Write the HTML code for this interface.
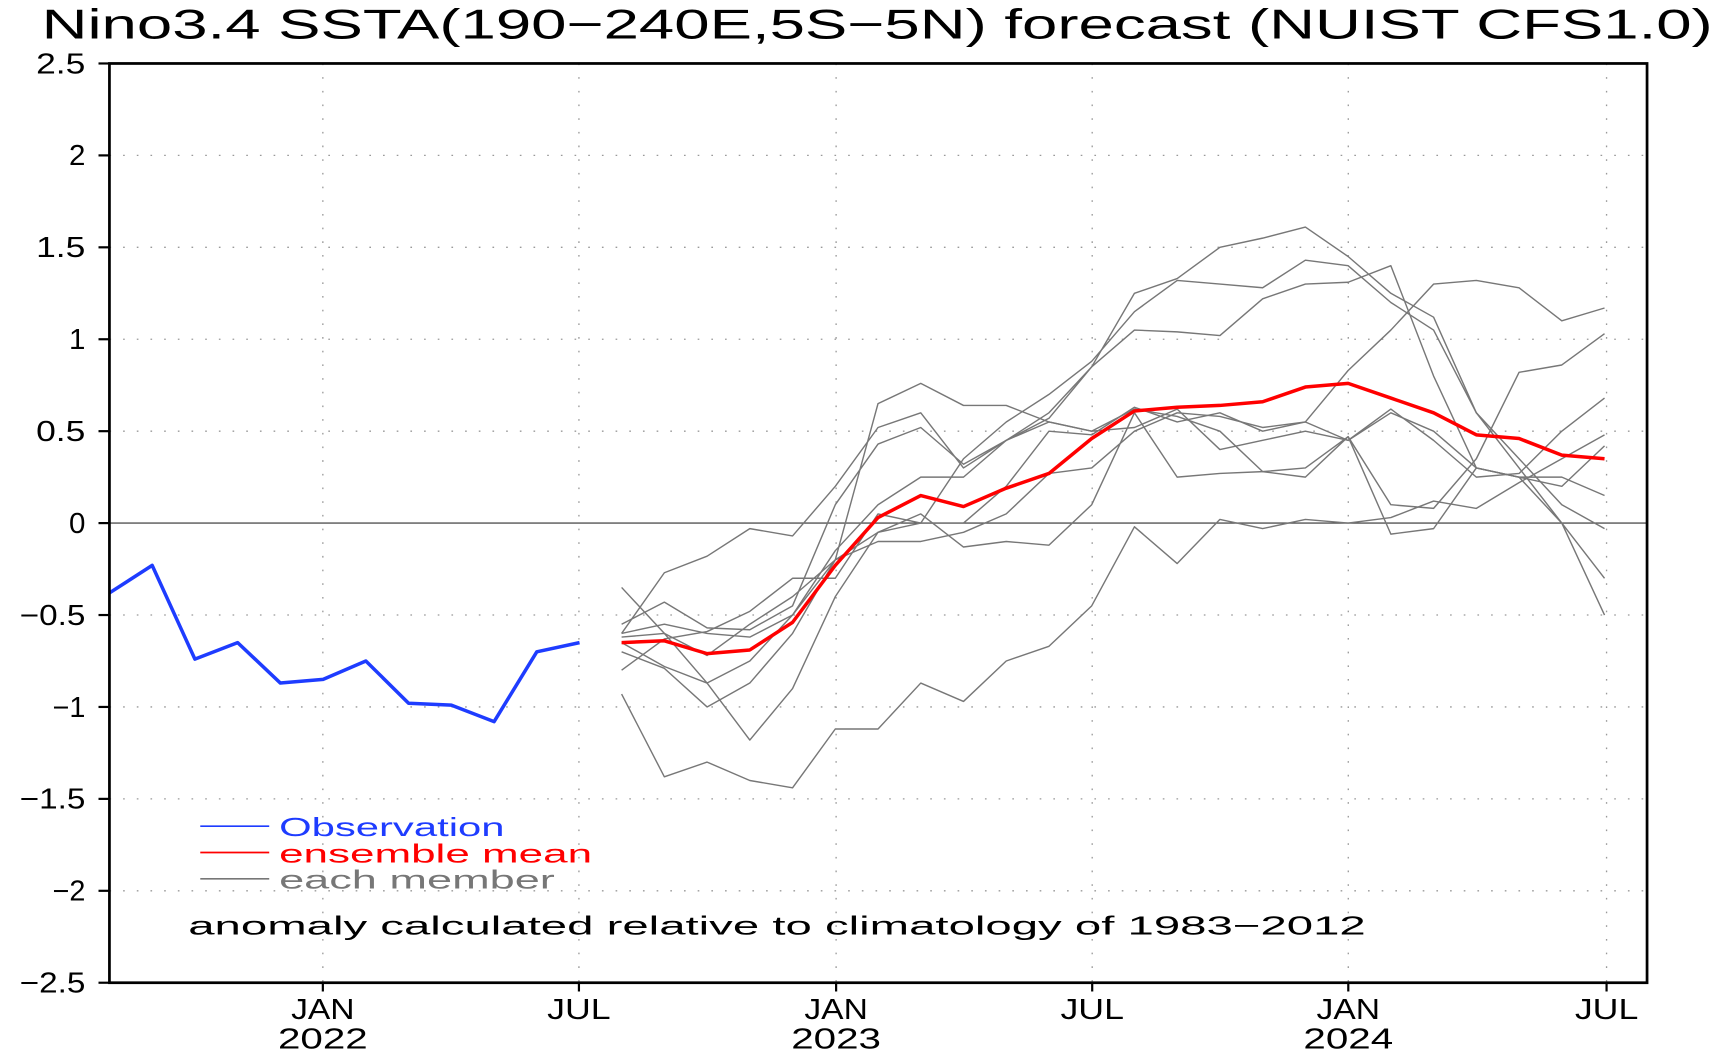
<!DOCTYPE html>
<html><head><meta charset="utf-8"><style>
html,body{margin:0;padding:0;background:#fff;}
svg{display:block;}
text{font-family:"Liberation Sans",sans-serif;}
</style></head><body>
<svg id="s" width="1716" height="1052" viewBox="0 0 1568 961.3" preserveAspectRatio="none" xmlns="http://www.w3.org/2000/svg">
<text x="38" y="35" font-size="38" textLength="1527" lengthAdjust="spacingAndGlyphs">Nino3.4 SSTA(190−240E,5S−5N) forecast (NUIST CFS1.0)</text>
<g id="g"></g>
</svg>
<script>
const g=document.getElementById('g');
const L=100,R=1505,T=58,B=898;
const Y=v=>478-v*168;
let h='';
for(let v=-2.5;v<=2.5;v+=0.5){const y=Y(v);
 if(Math.abs(v)>1e-9&&Math.abs(v)<2.5)h+=`<line x1="${L}" x2="${R}" y1="${y}" y2="${y}" stroke="#999" stroke-width="1.2" stroke-dasharray="1.5 11"/>`;
 h+=`<line x1="${L-10}" x2="${L}" y1="${y}" y2="${y}" stroke="#000" stroke-width="2"/>`;
 let lab=(Math.round(v*10)/10).toString().replace('-','−');
 h+=`<text x="${L-22}" y="${y+9}" font-size="26" text-anchor="end" textLength="${lab.length*15}" lengthAdjust="spacingAndGlyphs">${lab}</text>`;}
const xs=[[295,'JAN','2022'],[529,'JUL',''],[764,'JAN','2023'],[998,'JUL',''],[1232,'JAN','2024'],[1468,'JUL','']];
for(const [x,a,b] of xs){h+=`<line x1="${x}" x2="${x}" y1="${T}" y2="${B}" stroke="#999" stroke-width="1.2" stroke-dasharray="1.5 11"/>`;
 h+=`<line x1="${x}" x2="${x}" y1="${B}" y2="${B+8}" stroke="#000" stroke-width="2"/>`;
 h+=`<text x="${x}" y="${B+33}" font-size="26" text-anchor="middle" textLength="58" lengthAdjust="spacingAndGlyphs">${a}</text>`;
 if(b)h+=`<text x="${x}" y="${B+60}" font-size="26" text-anchor="middle" textLength="82" lengthAdjust="spacingAndGlyphs">${b}</text>`;}
h+=`<line x1="${L}" x2="${R}" y1="478" y2="478" stroke="#555" stroke-width="1.3"/>`;
const pl=(xs0,vals,c,w)=>`<polyline fill="none" stroke="${c}" stroke-width="${w}" stroke-linejoin="round" points="${vals.map((v,i)=>(xs0+39.05*i)+','+Y(v)).join(' ')}"/>`;
const M=[
[-0.6,-0.27,-0.18,-0.03,-0.07,0.2,0.52,0.6,0.3,0.45,0.6,0.85,1.25,1.33,1.5,1.55,1.61,1.45,1.25,1.12,0.6,0.3,0.0,-0.5],
[-0.35,-0.6,-0.87,-0.75,-0.5,-0.2,0.65,0.76,0.64,0.64,0.55,0.5,0.52,0.62,0.4,0.45,0.5,0.45,0.6,0.5,0.3,0.25,0.25,0.15],
[-0.55,-0.43,-0.57,-0.58,-0.45,0.1,0.43,0.52,0.32,0.45,0.57,0.85,1.05,1.04,1.02,1.22,1.3,1.31,1.4,0.8,0.3,0.25,0.0,-0.3],
[-0.93,-1.38,-1.3,-1.4,-1.44,-1.12,-1.12,-0.87,-0.97,-0.75,-0.67,-0.45,-0.02,-0.22,0.02,-0.03,0.02,0.0,0.03,0.12,0.08,0.22,0.35,0.48],
[-0.7,-0.79,-1.0,-0.87,-0.6,-0.2,-0.1,-0.1,-0.05,0.05,0.27,0.3,0.5,0.6,0.58,0.52,0.55,0.45,0.62,0.45,0.25,0.27,0.5,0.68],
[-0.65,-0.78,-0.87,-1.18,-0.9,-0.4,-0.05,0.05,-0.13,-0.1,-0.12,0.1,0.6,0.25,0.27,0.28,0.3,0.47,-0.06,-0.03,0.3,0.25,0.2,0.42],
[-0.8,-0.63,-0.59,-0.48,-0.3,-0.3,0.05,0.0,0.35,0.55,0.7,0.88,1.15,1.32,1.3,1.28,1.43,1.4,1.2,1.05,0.6,0.35,0.1,-0.03],
[-0.62,-0.6,-0.72,-0.55,-0.4,-0.2,-0.05,0.0,0.0,0.2,0.5,0.48,0.63,0.55,0.6,0.5,0.55,0.83,1.05,1.3,1.32,1.28,1.1,1.17],
[-0.6,-0.55,-0.6,-0.62,-0.5,-0.15,0.1,0.25,0.25,0.45,0.55,0.5,0.62,0.58,0.5,0.28,0.25,0.47,0.1,0.08,0.35,0.82,0.86,1.03]];
for(const m of M)h+=pl(568,m,'#777',1.3);
h+=pl(568,[-0.65,-0.64,-0.71,-0.69,-0.54,-0.23,0.03,0.15,0.09,0.19,0.27,0.46,0.61,0.63,0.64,0.66,0.74,0.76,0.68,0.60,0.48,0.46,0.37,0.35],'#f00',3.2);
h+=pl(100,[-0.38,-0.23,-0.74,-0.65,-0.87,-0.85,-0.75,-0.98,-0.99,-1.08,-0.70,-0.65],'#1e3cff',3.2);
h+=`<rect x="${L}" y="${T}" width="${R-L}" height="${B-T}" fill="none" stroke="#000" stroke-width="2.5"/>`;
const lg=[[755,'#1e3cff','Observation',206],[779,'#f00','ensemble mean',286],[803,'#777','each member',252]];
for(const [y,c,t,w] of lg){h+=`<line x1="183" x2="246" y1="${y}" y2="${y}" stroke="${c}" stroke-width="1.5"/>`;
 h+=`<text x="255" y="${y+9}" font-size="24" fill="${c}" textLength="${w}" lengthAdjust="spacingAndGlyphs">${t}</text>`;}
h+=`<text x="172" y="854" font-size="24" textLength="1076" lengthAdjust="spacingAndGlyphs">anomaly calculated relative to climatology of 1983−2012</text>`;
g.innerHTML=h;
</script>
</body></html>
